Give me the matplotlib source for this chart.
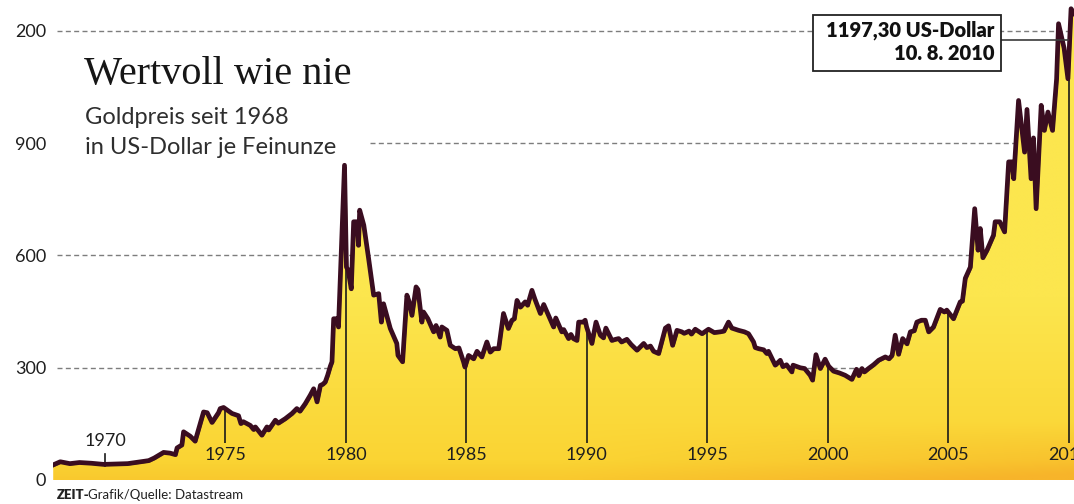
import numpy as np
import matplotlib
matplotlib.use("Agg")
import matplotlib.pyplot as plt
from matplotlib.patches import Polygon, Rectangle
from matplotlib.lines import Line2D
import matplotlib.patheffects as pe

# ---------------- data ----------------
years = [1967.85, 1968.2, 1968.6, 1969.0, 1969.5, 1970.0, 1971.0, 1971.87, 1972.1, 1972.49,
         1972.76, 1972.98, 1973.05, 1973.25, 1973.32, 1973.6, 1973.8, 1974.15, 1974.3, 1974.5,
         1974.77, 1974.84, 1974.98, 1975.33, 1975.6, 1975.7, 1975.8, 1976.09, 1976.23, 1976.3,
         1976.57, 1976.78, 1976.85, 1977.13, 1977.25, 1977.54, 1977.82, 1978.02, 1978.15, 1978.37,
         1978.58, 1978.72, 1978.86, 1979.0, 1979.1, 1979.2, 1979.3, 1979.41, 1979.48, 1979.55,
         1979.69, 1979.75, 1980.0, 1980.08, 1980.15, 1980.28, 1980.38, 1980.52, 1980.58, 1980.63,
         1980.8, 1981.0, 1981.21, 1981.42, 1981.53, 1981.62, 1981.9, 1982.17, 1982.22, 1982.41,
         1982.59, 1982.68, 1982.8, 1982.97, 1983.05, 1983.21, 1983.28, 1983.46, 1983.7, 1983.8,
         1983.97, 1984.04, 1984.25, 1984.39, 1984.6, 1984.75, 1984.94, 1985.0, 1985.15, 1985.36,
         1985.5, 1985.7, 1985.91, 1986.05, 1986.19, 1986.4, 1986.6, 1986.8, 1986.95, 1987.05,
         1987.16, 1987.3, 1987.5, 1987.6, 1987.78, 1987.9, 1988.13, 1988.27, 1988.47, 1988.68,
         1988.77, 1989.02, 1989.1, 1989.3, 1989.4, 1989.5, 1989.65, 1989.72, 1989.9, 1989.99,
         1990.05, 1990.27, 1990.44, 1990.62, 1990.75, 1990.85, 1991.1, 1991.25, 1991.38, 1991.5,
         1991.72, 1991.9, 1992.14, 1992.42, 1992.55, 1992.7, 1992.83, 1993.04, 1993.32, 1993.45,
         1993.62, 1993.8, 1994.0, 1994.1, 1994.3, 1994.4, 1994.56, 1994.84, 1995.11, 1995.35,
         1995.6, 1995.75, 1995.94, 1996.08, 1996.36, 1996.6, 1996.77, 1996.98, 1997.05, 1997.19,
         1997.4, 1997.53, 1997.6, 1997.88, 1998.09, 1998.2, 1998.35, 1998.57, 1998.62, 1998.92,
         1999.1, 1999.33, 1999.43, 1999.57, 1999.75, 1999.95, 2000.1, 2000.3, 2000.55, 2000.78,
         2001.06, 2001.25, 2001.35, 2001.48, 2001.58, 2001.75, 2001.96, 2002.17, 2002.45, 2002.6,
         2002.73, 2002.86, 2003.0, 2003.17, 2003.35, 2003.49, 2003.65, 2003.76, 2003.95, 2004.11,
         2004.25, 2004.45, 2004.73, 2004.9, 2005.0, 2005.28, 2005.56, 2005.65, 2005.77, 2005.98,
         2006.16, 2006.3, 2006.39, 2006.5, 2006.67, 2006.94, 2007.01, 2007.2, 2007.4, 2007.57,
         2007.7, 2007.78, 2007.98, 2008.23, 2008.33, 2008.5, 2008.6, 2008.71, 2008.92, 2009.05,
         2009.2, 2009.39, 2009.56, 2009.64, 2009.87, 2010.03, 2010.16, 2010.3]
prices = [35, 45, 40, 43, 41, 38, 40, 48, 55, 70,
          68, 64, 82, 90, 125, 113, 100, 178, 176, 150,
          176, 187, 190, 174, 168, 147, 152, 142, 131, 138,
          116, 138, 130, 156, 148, 160, 174, 187, 180, 200,
          223, 240, 205, 249, 252, 258, 276, 300, 312, 427,
          427, 405, 837, 565, 557, 507, 686, 686, 623, 717,
          677, 588, 490, 494, 418, 467, 401, 361, 329, 312,
          490, 473, 436, 512, 505, 418, 445, 427, 392, 409,
          378, 405, 396, 356, 347, 349, 312, 298, 329, 320,
          340, 325, 365, 338, 347, 347, 441, 401, 423, 427,
          476, 458, 472, 463, 503, 480, 441, 465, 436, 405,
          429, 392, 398, 374, 385, 374, 369, 418, 418, 423,
          405, 361, 418, 383, 376, 402, 369, 372, 374, 365,
          372, 358, 343, 361, 350, 354, 340, 334, 402, 408,
          356, 396, 392, 388, 394, 386, 399, 387, 399, 390,
          392, 394, 418, 402, 396, 392, 387, 365, 350, 347,
          344, 334, 340, 303, 316, 299, 304, 285, 303, 296,
          294, 276, 263, 331, 294, 319, 300, 287, 282, 276,
          265, 292, 275, 294, 285, 294, 304, 316, 325, 320,
          329, 383, 332, 374, 360, 392, 395, 418, 423, 423,
          392, 405, 452, 445, 450, 427, 472, 474, 535, 565,
          721, 610, 668, 590, 610, 650, 686, 686, 659, 846,
          846, 801, 1010, 872, 986, 801, 910, 721, 997, 930,
          979, 930, 1068, 1215, 1150, 1068, 1255, 1240]

ytick_values = [0, 300, 600, 900, 1200]
ytick_labels = ["0", "300", "600", "900", "200"]
first_year_mark = 1970
year_marks = [1975, 1980, 1985, 1990, 1995, 2000, 2005, 2010]
record_year_mark = 2010

title = "Wertvoll wie nie"
subtitle = ["Goldpreis seit 1968", "in US-Dollar je Feinunze"]
record_label = ["1197,30 US-Dollar", "10. 8. 2010"]
source_bold = "ZEIT-"
source_rest = "Grafik/Quelle: Datastream"

# ---------------- layout helpers ----------------
W, H = 1074, 504
fig = plt.figure(figsize=(W / 100, H / 100), dpi=100)
fig.patch.set_facecolor("white")


def fx(x):
    return x / W


def fy(y):
    return 1 - y / H


PX_PER_YEAR = 24.09
PX_PER_UNIT = 0.3744
AX_LEFT, AX_BOTTOM = 53, 480
ax = fig.add_axes([fx(AX_LEFT), 1 - AX_BOTTOM / H, (W - AX_LEFT) / W, AX_BOTTOM / H])
x0 = 1970 + (AX_LEFT - 105) / PX_PER_YEAR
x1 = 1970 + (W - 105) / PX_PER_YEAR
ax.set_xlim(x0, x1)
ax.set_ylim(0, AX_BOTTOM / PX_PER_UNIT)
for s in ax.spines.values():
    s.set_visible(False)
ax.set_xticks([])
ax.set_yticks(ytick_values)
ax.set_yticklabels(ytick_labels, fontfamily="Lato", fontsize=13, color="#1e1e1e")
ax.tick_params(axis="y", length=0, pad=5)
ax.patch.set_alpha(0)


def val(ypx):
    return (AX_BOTTOM - ypx) / PX_PER_UNIT


TXT = "#1e1e1e"
LINE = "#3a0d20"

# ---------------- grid lines ----------------
grid_start = {300: 57, 600: 57, 900: 370, 1200: 57}
for v in ytick_values[1:]:
    ax.axhline(v, xmin=(grid_start[v] - AX_LEFT) / (W - AX_LEFT), xmax=1,
               color="#7d7d7d", lw=1.0, dashes=(3.6, 2.4), zorder=0.5)

# ---------------- gradient fill ----------------
nx, ny = 400, 300
gx = np.linspace(0, 1, nx)[None, :]
gy = np.linspace(0, 1, ny)[:, None]
top_c = np.array([252, 230, 78]) / 255
bot_c = np.array([250, 210, 48]) / 255
ora_c = np.array([247, 180, 42]) / 255
t = np.clip(gy / 0.38, 0, 1)[..., None]
img = bot_c + (top_c - bot_c) * t
w = (np.clip((gx - 0.5) / 0.5, 0, 1) * np.clip(1 - gy / 0.12, 0, 1)) * 0.85
w = w + 0.3 * np.clip(1 - gy / 0.04, 0, 1) * np.ones_like(gx)
w = np.clip(w, 0, 1)[..., None]
img = img * (1 - w) + ora_c * w
im = ax.imshow(img, extent=[x0, x1, 0, AX_BOTTOM / PX_PER_UNIT], origin="lower",
               aspect="auto", zorder=1, interpolation="bilinear")
verts = np.column_stack([np.r_[years[0], years, years[-1]], np.r_[0, prices, 0]])
poly = Polygon(verts, closed=True, facecolor="none", edgecolor="none", transform=ax.transData)
ax.add_patch(poly)
im.set_clip_path(poly)
ax.plot(years, prices, color="#7a5a18", lw=0.6, zorder=2)

# ---------------- year markers ----------------
for yr in year_marks:
    topv = np.interp(yr, years, prices)
    if yr == record_year_mark:
        topv = val(40)
    ax.plot([yr, yr], [val(443), topv], color="#1a1a1a", lw=1.2, zorder=3,
            solid_capstyle="butt")
    ax.text(yr, val(455), str(yr), ha="center", va="center", fontfamily="Lato",
            fontsize=13, color=TXT, zorder=6)
ax.plot([first_year_mark, first_year_mark],
        [np.interp(first_year_mark, years, prices), val(454)],
        color="#1a1a1a", lw=1.2, zorder=3)
ax.text(first_year_mark, val(440.5), str(first_year_mark), ha="center", va="center",
        fontfamily="Lato", fontsize=13, color=TXT, zorder=6)

# ---------------- price line ----------------
ax.plot(years, prices, color=LINE, lw=3.4, zorder=4, solid_joinstyle="round",
        solid_capstyle="round",
        path_effects=[pe.Stroke(offset=(-1.0, 1.0), linewidth=3.4, foreground=LINE)])

# ---------------- record annotation ----------------
fig.add_artist(Line2D([fx(1001), fx(1068)], [fy(40), fy(40)], color="#3a3a3a", lw=1.2,
                      zorder=7))
fig.add_artist(Rectangle((fx(813), fy(71)), fx(1001) - fx(813), fy(15) - fy(71),
                         facecolor="white", edgecolor="#222222", lw=1.3, zorder=8))
fig.text(fx(994), fy(37), record_label[0], ha="right", va="baseline", fontfamily="Lato",
         fontweight="heavy", fontsize=14.5, color="#111111", zorder=9)
fig.text(fx(994), fy(60), record_label[1], ha="right", va="baseline", fontfamily="Lato",
         fontweight="heavy", fontsize=14.5, color="#111111", zorder=9)

# ---------------- titles ----------------
fig.text(fx(84), fy(84), title, ha="left", va="baseline", fontfamily="Liberation Serif",
         fontsize=29, color="#161616")
fig.text(fx(85), fy(124), subtitle[0], ha="left", va="baseline", fontfamily="Lato",
         fontweight="normal", fontsize=17, color="#2e2e2e")
fig.text(fx(85), fy(154), subtitle[1], ha="left", va="baseline", fontfamily="Lato",
         fontweight="normal", fontsize=17, color="#2e2e2e")

# ---------------- source ----------------
t1 = fig.text(fx(57), fy(499), source_bold, ha="left", va="baseline", fontfamily="Lato",
              fontweight="heavy", fontsize=9.5, color="#222222")
plt.annotate(source_rest, xy=(1, 0), xycoords=t1, xytext=(-1.5, 0),
             textcoords="offset points", ha="left", va="bottom",
             fontfamily="Lato", fontsize=9.5, color="#222222", annotation_clip=False)

fig.savefig("out.png", dpi=100, facecolor="white")
